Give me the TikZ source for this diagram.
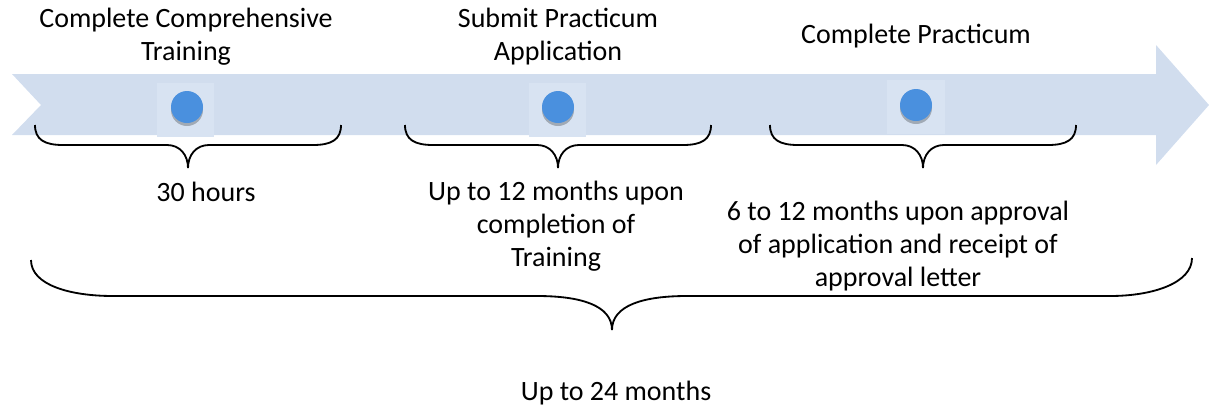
\documentclass[tikz,border=0pt]{standalone}
\usepackage{fontspec}
\setmainfont{Carlito}
\definecolor{bandblue}{RGB}{209,221,238}
\definecolor{patchblue}{RGB}{216,227,242}
\definecolor{dotblue}{RGB}{74,144,222}

\begin{document}
\begin{tikzpicture}[x=0.025cm,y=-0.025cm]
\useasboundingbox (0,0) rectangle (1209,409);
\tikzset{steptext/.style={align=center,font=\fontsize{19.9}{23.5}\selectfont,inner sep=0pt}}

% timeline arrow
\fill[bandblue] (12,74) -- (1156,74) -- (1156,45) -- (1209,105)
  -- (1156,165) -- (1156,135) -- (12,135) -- (41,105) -- cycle;

% milestone dots
\fill[patchblue] (157,83) rectangle (214,137);
\fill[black, opacity=0.25] (187,110) circle[radius=16];
\fill[dotblue] (187,107) circle[radius=16];

\fill[patchblue] (529,83) rectangle (586,137);
\fill[black, opacity=0.25] (558,110) circle[radius=16];
\fill[dotblue] (558,107) circle[radius=16];

\fill[patchblue] (887,80) rectangle (945,134);
\fill[black, opacity=0.25] (916,108) circle[radius=16];
\fill[dotblue] (916,105) circle[radius=16];

% step braces
\draw[line width=1.3pt] (35,125) .. controls (35,140) and (45,145) .. (63,145)
  -- (167,145) .. controls (180,145) and (188,155) .. (188,168)
  .. controls (188,155) and (196,145) .. (209,145) -- (313,145)
  .. controls (331,145) and (341,140) .. (341,125);
\draw[line width=1.3pt] (405,125) .. controls (405,140) and (415,145) .. (433,145)
  -- (537,145) .. controls (550,145) and (558,155) .. (558,168)
  .. controls (558,155) and (566,145) .. (579,145) -- (683,145)
  .. controls (701,145) and (711,140) .. (711,125);
\draw[line width=1.3pt] (770,125) .. controls (770,140) and (780,145) .. (798,145)
  -- (902,145) .. controls (915,145) and (923,155) .. (923,168)
  .. controls (923,155) and (931,145) .. (944,145) -- (1048,145)
  .. controls (1066,145) and (1076,140) .. (1076,125);

% overall brace
\draw[line width=1.3pt] (31,260) .. controls (31,285) and (70,296) .. (113,296)
  -- (537,296) .. controls (580,296) and (612,305) .. (612,330)
  .. controls (612,305) and (644,296) .. (687,296) -- (1110,296)
  .. controls (1153,296) and (1192,283) .. (1192,258);

% labels
\node[steptext] (training) at (186,37) {Complete Comprehensive\\Training};
\node[steptext] (submit) at (558,37) {Submit Practicum\\Application};
\node[steptext] (practicum) at (916,36) {Complete Practicum};

\node[steptext] (hours) at (206,192) {30 hours};
\node[steptext] (upon) at (556,226) {Up to 12 months upon\\completion of\\Training};
\node[steptext] (approval) at (898,246) {6 to 12 months upon approval\\of application and receipt of\\approval letter};
\node[steptext] (total) at (616,393) {Up to 24 months};

\end{tikzpicture}
\end{document}
